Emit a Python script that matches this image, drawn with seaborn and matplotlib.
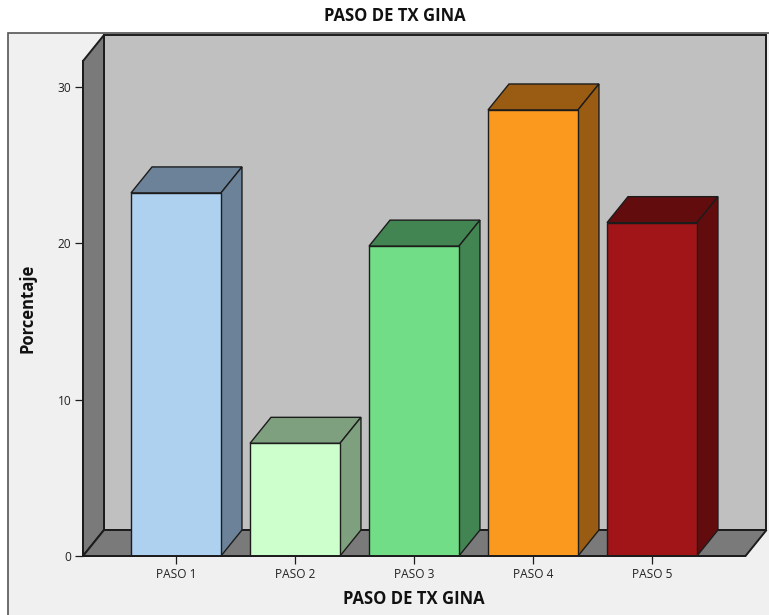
import matplotlib
matplotlib.use("Agg")
import matplotlib.pyplot as plt
from matplotlib.patches import Polygon, Rectangle
from matplotlib.transforms import Affine2D
import pandas as pd
import seaborn as sns

# Treatment step shares (%)
pasos = ["PASO 1", "PASO 2", "PASO 3", "PASO 4", "PASO 5"]
porcentajes = [23.2, 7.2, 19.8, 28.5, 21.3]
y_ticks = [0, 10, 20, 30]

# Front face and shaded side colour of every bar
colores = ["#AED1EF", "#CCFFCC", "#71DE87", "#FB981E", "#A11417"]
sombras = ["#6B8299", "#7FA07F", "#438552", "#9A5C12", "#620C0E"]

W, H = 769, 615
DEPTH_X, DEPTH_Y = 21, 26
LINE = "#1c1c1c"

sns.set_theme(style="white")
plt.rcParams["font.family"] = ["Open Sans", "DejaVu Sans"]

fig = plt.figure(figsize=(W / 100, H / 100), dpi=100, facecolor="white")
ax = fig.add_axes([83 / W, (H - 556) / H, 662.5 / W, 495 / H])
ax.patch.set_visible(False)

# Outer chart panel
fig.add_artist(Rectangle((8 / W, -0.02), 1.0, (H - 33) / H + 0.02,
                         transform=fig.transFigure, facecolor="#F0F0F0",
                         edgecolor="#555555", linewidth=1.2, zorder=-1))

datos = pd.DataFrame({"paso": pasos, "porcentaje": porcentajes})
sns.barplot(data=datos, x="paso", y="porcentaje", hue="paso", palette=colores,
            order=pasos, hue_order=pasos, legend=False, saturation=1,
            width=0.756, edgecolor=LINE, linewidth=1.0, ax=ax)

ax.set_xlim(-0.7815, 4.786)
ax.set_ylim(0, 31.63)
ax.set_yticks(y_ticks)

# Pixel offset that pushes a point to the rear plane of the box
depth = ax.transData + Affine2D().translate(DEPTH_X, DEPTH_Y)
axes_depth = ax.transAxes + Affine2D().translate(DEPTH_X, DEPTH_Y)
to_px = ax.transData


def prism(points, color, transform, zorder, lw=1.0):
    poly = Polygon(points, closed=True, facecolor=color, edgecolor=LINE,
                   linewidth=lw, transform=transform, zorder=zorder,
                   clip_on=False, joinstyle="miter")
    ax.add_patch(poly)


# Back wall, left wall and floor of the box
prism([(0, 0), (1, 0), (1, 1), (0, 1)], "#C0C0C0", axes_depth, 0.3, 1.4)
px = ax.transAxes.transform([(0, 0), (1, 0), (0, 1)])
(x0, y0), (x1, _), (_, y1) = px
identity = Affine2D()
prism([(x0, y0), (x0 + DEPTH_X, y0 + DEPTH_Y), (x0 + DEPTH_X, y1 + DEPTH_Y), (x0, y1)],
      "#7A7A7A", identity, 0.4, 1.4)
prism([(x0, y0), (x1, y0), (x1 + DEPTH_X, y0 + DEPTH_Y), (x0 + DEPTH_X, y0 + DEPTH_Y)],
      "#7A7A7A", identity, 0.4, 1.4)

# Top and right faces of every bar, taken from the drawn bar rectangles
for bar, sombra in zip(ax.patches[:len(pasos)], sombras):
    left, right = bar.get_x(), bar.get_x() + bar.get_width()
    top = bar.get_height()
    (xl, yb), (xr, yt) = to_px.transform([(left, 0), (right, top)])
    prism([(xl, yt), (xr, yt), (xr + DEPTH_X, yt + DEPTH_Y), (xl + DEPTH_X, yt + DEPTH_Y)],
          sombra, identity, 0.9)
    prism([(xr, yb), (xr + DEPTH_X, yb + DEPTH_Y), (xr + DEPTH_X, yt + DEPTH_Y), (xr, yt)],
          sombra, identity, 0.9)

for side in ("top", "right"):
    ax.spines[side].set_visible(False)
for side in ("left", "bottom"):
    ax.spines[side].set_color(LINE)
    ax.spines[side].set_linewidth(1.4)

ax.tick_params(axis="both", which="major", left=True, bottom=True, length=5.8, width=0.9,
               color=LINE, labelsize=8.6, labelcolor="#222222", pad=2.5)

ax.set_xlabel("PASO DE TX GINA", fontsize=12, fontweight="bold", color="#111111", labelpad=7)
ax.set_ylabel("Porcentaje", fontsize=12, fontweight="bold", color="#111111")
ax.yaxis.set_label_coords((36 - 83) / 662.5, (556 - 308) / 495)
fig.text(395 / W, (H - 16) / H, "PASO DE TX GINA", ha="center", va="center",
         fontsize=12, fontweight="bold", color="#111111")

fig.savefig("out.png", dpi=100, facecolor="white")
